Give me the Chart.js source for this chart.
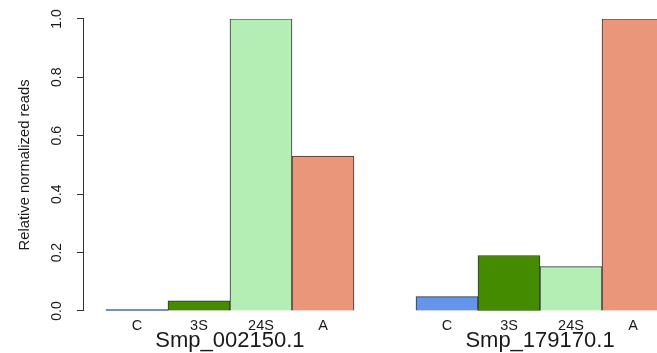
<!DOCTYPE html>
<html>
<head>
<meta charset="utf-8">
<script src="https://cdn.jsdelivr.net/npm/chart.js@4/dist/chart.umd.min.js"></script>
<style>
  html, body { margin: 0; padding: 0; background: #fff; overflow: hidden; }
  #wrap { width: 657px; height: 353px; position: relative; }
</style>
</head>
<body>
<div id="wrap"><canvas id="c" width="657" height="353"></canvas></div>
<script>
// ---- data ----
const categories = ['C', '3S', '24S', 'A'];
const genes = ['Smp_002150.1', 'Smp_179170.1'];
const valuesGene1 = [0.005, 0.035, 1.0, 0.53];
const valuesGene2 = [0.049, 0.19, 0.152, 1.0];
const colors = ['#6495ED', '#458B00', '#B4EEB4', '#E9967A'];
const yTicks = [0, 0.2, 0.4, 0.6, 0.8, 1.0];

const seriesValues = [valuesGene1, valuesGene2];
const slotsPerGroup = categories.length + 1; // one empty slot between groups

const points = [];
const pointColors = [];
const tickPos = [];
const tickLabel = [];
const tickIsGroup = [];
seriesValues.forEach((vals, g) => {
  vals.forEach((v, i) => {
    const x = g * slotsPerGroup + i + 0.5;
    points.push({ x: x, y: v });
    pointColors.push(colors[i]);
    tickPos.push(x);
    tickLabel.push(categories[i]);
    tickIsGroup.push(false);
  });
});
genes.forEach((name, g) => {
  tickPos.push(g * slotsPerGroup + categories.length / 2);
  tickLabel.push(['', name]);
  tickIsGroup.push(true);
});

const X_MIN = -0.355;
const X_MAX = 8.887;
const FONT = '"Liberation Sans", Arial, Helvetica, sans-serif';
const TXT = '#1a1a1a';
const catFont = { family: FONT, size: 14.5, lineHeight: 1.4897 };
const geneFont = { family: FONT, size: 22, lineHeight: 0.773 };

new Chart(document.getElementById('c'), {
  type: 'bar',
  data: {
    datasets: [{
      data: points,
      backgroundColor: pointColors,
      borderColor: '#333333',
      borderWidth: 1,
      barPercentage: 1.0,
      categoryPercentage: 1.0
    }]
  },
  options: {
    responsive: false,
    animation: false,
    layout: { padding: { left: 0, right: 0, top: 0, bottom: 0 } },
    plugins: { legend: { display: false }, tooltip: { enabled: false } },
    scales: {
      x: {
        type: 'linear',
        position: 'bottom',
        offset: false,
        min: X_MIN,
        max: X_MAX,
        grid: { display: false, drawTicks: false, tickLength: 0, offset: false },
        border: { display: false },
        afterBuildTicks: (s) => { s.ticks = tickPos.map(v => ({ value: v })); },
        ticks: {
          autoSkip: false,
          maxRotation: 0,
          minRotation: 0,
          padding: 4,
          color: TXT,
          font: (ctx) => (tickIsGroup[ctx.index] ? geneFont : catFont),
          callback: (v, idx) => tickLabel[idx]
        }
      },
      y: {
        type: 'linear',
        position: 'left',
        min: 0,
        max: 1,
        afterBuildTicks: (s) => { s.ticks = yTicks.map(v => ({ value: v })); },
        grid: { display: true, drawOnChartArea: false, drawTicks: true, tickLength: 7, color: '#333333', lineWidth: 1 },
        border: { display: true, color: '#333333', width: 1 },
        ticks: {
          minRotation: 90,
          maxRotation: 90,
          crossAlign: 'center',
          padding: 10.5,
          color: TXT,
          font: { family: FONT, size: 14 },
          callback: (v) => Number(v).toFixed(1)
        },
        title: {
          display: true,
          text: 'Relative normalized reads',
          color: TXT,
          font: { family: FONT, size: 14.8 },
          padding: { top: 15.8, bottom: 5.6 }
        }
      }
    }
  }
});
</script>
</body>
</html>
